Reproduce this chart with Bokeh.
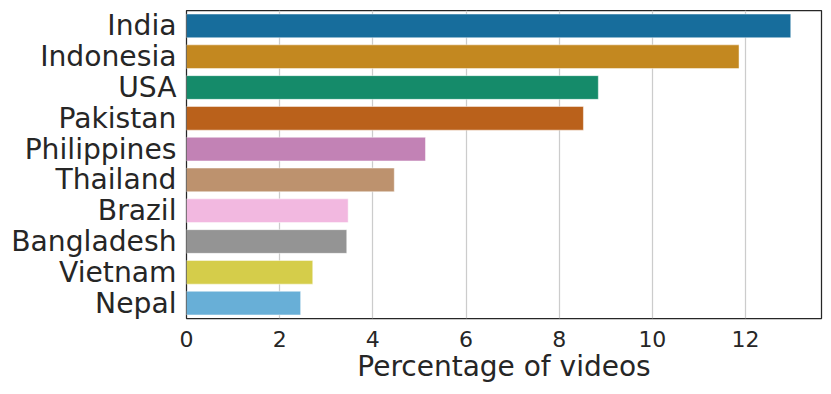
import colorsys
from bokeh.plotting import figure
from bokeh.models import FactorRange, Range1d, FixedTicker, ColumnDataSource
from bokeh.embed import file_html
from bokeh.resources import INLINE

countries = ["India", "Indonesia", "USA", "Pakistan", "Philippines", "Thailand",
             "Brazil", "Bangladesh", "Vietnam", "Nepal"]
percentages = [12.97, 11.86, 8.84, 8.52, 5.13, 4.46, 3.47, 3.44, 2.71, 2.45]
x_ticks = [0, 2, 4, 6, 8, 10, 12]

base_palette = ["#0173B2", "#DE8F05", "#029E73", "#D55E00", "#CC78BC",
                "#CA9161", "#FBAFE4", "#949494", "#ECE133", "#56B4E9"]


def desaturate(hexc, prop=0.75):
    r, g, b = (int(hexc[i:i + 2], 16) / 255 for i in (1, 3, 5))
    h, l, s = colorsys.rgb_to_hls(r, g, b)
    r, g, b = colorsys.hls_to_rgb(h, l, s * prop)
    return "#%02x%02x%02x" % (round(r * 255), round(g * 255), round(b * 255))


colors = [desaturate(c) for c in base_palette]

source = ColumnDataSource(dict(country=countries, pct=percentages, color=colors))

p = figure(width=823, height=386, output_backend="svg", toolbar_location=None,
           y_range=FactorRange(factors=countries[::-1]),
           x_range=Range1d(0, 13.63),
           min_border_left=186, min_border_right=2, min_border_top=10, min_border_bottom=68)

p.hbar(y="country", right="pct", left=0, height=0.77, fill_color="color",
       line_color="white", line_width=0.8, line_alpha=0.6, source=source)

text_color = "#262626"
font = "DejaVu Sans"

p.xaxis.ticker = FixedTicker(ticks=x_ticks)
p.xaxis.axis_label = "Percentage of videos"
for ax in (p.xaxis[0], p.yaxis[0]):
    ax.major_tick_line_color = None
    ax.minor_tick_line_color = None
    ax.axis_line_color = None
    ax.major_label_text_color = text_color
    ax.major_label_text_font = font
    ax.axis_label_text_color = text_color
    ax.axis_label_text_font = font
    ax.axis_label_text_font_style = "normal"
    ax.major_tick_out = 0
    ax.major_tick_in = 0

p.xaxis.major_label_text_font_size = "22px"
p.xaxis.axis_label_text_font_size = "28px"
p.xaxis.major_label_standoff = 12
p.xaxis.axis_label_standoff = 0
p.yaxis.major_label_text_font_size = "28.2px"
p.yaxis.major_label_standoff = 10

p.ygrid.grid_line_color = None
p.xgrid.grid_line_color = "#cccccc"
p.xgrid.grid_line_width = 1.25

p.outline_line_color = text_color
p.outline_line_width = 1.25
p.outline_line_alpha = 1.0
p.background_fill_color = "white"
p.border_fill_color = "white"

open("out.html", "w").write(file_html(p, INLINE))
